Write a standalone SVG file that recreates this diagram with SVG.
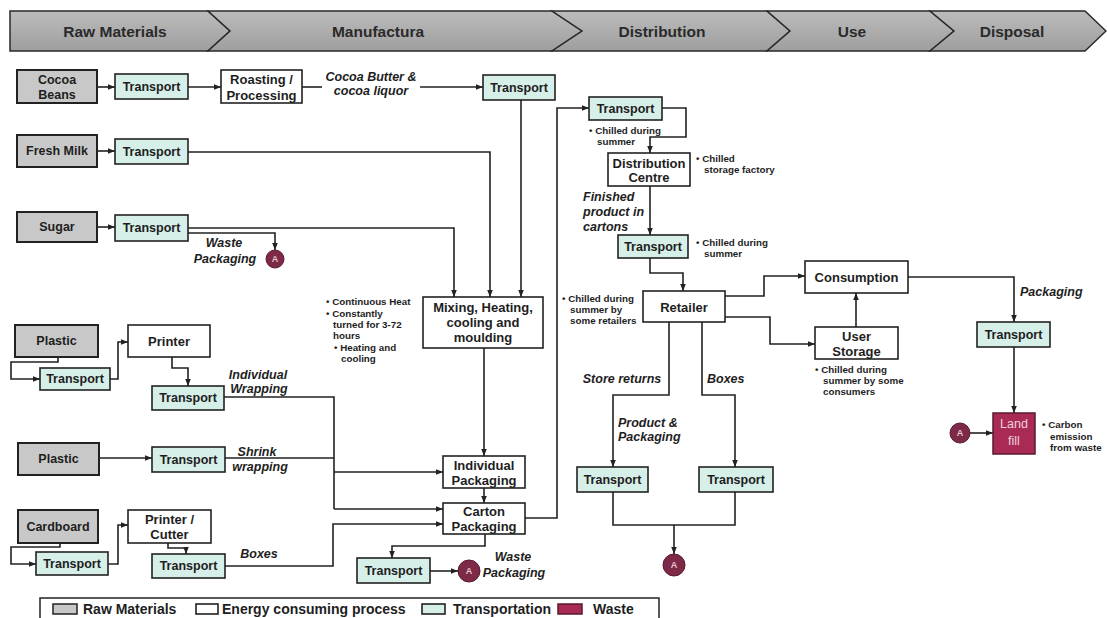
<svg xmlns="http://www.w3.org/2000/svg" width="1107" height="618" viewBox="0 0 1107 618">
<defs>
<marker id="ah" viewBox="0 0 10 10" refX="10" refY="5" markerWidth="7" markerHeight="7" orient="auto" markerUnits="userSpaceOnUse"><path d="M0,1 L10,5 L0,9 z" fill="#222"/></marker>
<linearGradient id="hg" x1="0" y1="0" x2="0" y2="1"><stop offset="0" stop-color="#bcbcbc"/><stop offset="1" stop-color="#9e9e9e"/></linearGradient>
</defs>
<style>
text{font-family:"Liberation Sans",Arial,sans-serif;font-weight:bold;fill:#1e1e1e;dominant-baseline:central}
.hd{font-size:15.5px;text-anchor:middle;fill:#2a2a2a}
.hdp{fill:url(#hg);stroke:#2a2a2a;stroke-width:1.5}
.raw{fill:#c8c8c8;stroke:#222;stroke-width:2}
.proc{fill:#fff;stroke:#222;stroke-width:1.6}
.tr{fill:#d6efe8;stroke:#222;stroke-width:1.6}
.waste{fill:#a82a55;stroke:#5a1a2a;stroke-width:1.5}
.wc{fill:#7d2a48;stroke:#5a1a30;stroke-width:1}
.wct{font-size:9px;fill:#e8c0cc;text-anchor:middle}
.n{font-size:13px;text-anchor:middle}
.t{font-size:12.5px;text-anchor:middle}
.lb{font-size:12.5px;font-style:italic;text-anchor:middle}
.lbl{font-size:12.5px;font-style:italic}
.note{font-size:9.8px}
.lg{font-size:14px}
.c path{fill:none;stroke:#222;stroke-width:1.6}
.c .a{marker-end:url(#ah)}
</style>
<rect width="1107" height="618" fill="#fff"/>

<g id="header">
<polygon class="hdp" points="10,11 208,11 230,31 208,51 10,51"/>
<polygon class="hdp" points="208,11 552,11 582,31 552,51 208,51 230,31"/>
<polygon class="hdp" points="552,11 767,11 790,31 767,51 552,51 582,31"/>
<polygon class="hdp" points="767,11 930,11 954,31 930,51 767,51 790,31"/>
<polygon class="hdp" points="930,11 1085,11 1106,31 1085,51 930,51 954,31"/>
<text class="hd" x="115" y="31">Raw Materials</text>
<text class="hd" x="378" y="31">Manufactura</text>
<text class="hd" x="662" y="31">Distribution</text>
<text class="hd" x="852" y="31">Use</text>
<text class="hd" x="1012" y="31">Disposal</text>
</g>

<g id="connectors" class="c">
<path class="a" d="M97,87 H115"/>
<path class="a" d="M188,87 H221"/>
<path d="M302,87 H322"/>
<path class="a" d="M420,87 H483"/>
<path class="a" d="M521,100 V297"/>
<path class="a" d="M97,151 H115"/>
<path class="a" d="M188,152 H490 V297"/>
<path class="a" d="M97,227 H115"/>
<path class="a" d="M188,228 H454 V297"/>
<path class="a" d="M188,233 H275 V250"/>
<path class="a" d="M58,357 V362 H11 V379 H40"/>
<path class="a" d="M110,379 H118 V342 H128"/>
<path class="a" d="M172,357 V368 H188 V386"/>
<path d="M224,397 H334 V509"/>
<path class="a" d="M334,472 H443"/>
<path class="a" d="M334,509 H443"/>
<path class="a" d="M99,458 H152"/>
<path d="M225,458 H334"/>
<path class="a" d="M60,543 V547 H11 V564 H36"/>
<path class="a" d="M108,564 H118 V525 H128"/>
<path class="a" d="M168,543 V548 H186 V554"/>
<path class="a" d="M225,566 H333 V524 H443"/>
<path class="a" d="M484,348 V456"/>
<path class="a" d="M484,488 V503"/>
<path class="a" d="M525,518 H557 V108 H589"/>
<path class="a" d="M485,534 V546 H392 V558"/>
<path class="a" d="M430,571 H458"/>
<path class="a" d="M662,108 H686 V137 H650 V153"/>
<path class="a" d="M650,186 V235"/>
<path class="a" d="M650,258 V273 H683 V291"/>
<path class="a" d="M725,296 H764 V276 H805"/>
<path class="a" d="M725,317 H770 V344 H815"/>
<path class="a" d="M856,327 V293"/>
<path class="a" d="M908,277 H1014 V322"/>
<path class="a" d="M1014,347 V413"/>
<path class="a" d="M970,433 H993"/>
<path class="a" d="M669,322 V395 H613 V467"/>
<path class="a" d="M702,322 V395 H735 V467"/>
<path d="M613,492 V525 H735 V492"/>
<path class="a" d="M674,525 V554"/>
</g>

<g id="cocoa-beans"><rect class="raw" x="17" y="70" width="80" height="33"/><text class="t" x="57" y="80">Cocoa</text><text class="t" x="57" y="95">Beans</text></g>
<g id="t-cocoa"><rect class="tr" x="115" y="74" width="73" height="25"/><text class="t" x="151.5" y="87">Transport</text></g>
<g id="roasting"><rect class="proc" x="221" y="70" width="81" height="33"/><text class="n" x="261.5" y="79">Roasting /</text><text class="n" x="261.5" y="95">Processing</text></g>
<g id="lbl-cocoa-butter"><text class="lb" x="371" y="77">Cocoa Butter &amp;</text><text class="lb" x="371" y="91">cocoa liquor</text></g>
<g id="t-mid"><rect class="tr" x="483" y="75" width="72" height="25"/><text class="t" x="519" y="87.5">Transport</text></g>

<g id="fresh-milk"><rect class="raw" x="17" y="135" width="80" height="32"/><text class="t" x="57" y="151">Fresh Milk</text></g>
<g id="t-milk"><rect class="tr" x="115" y="139" width="73" height="25"/><text class="t" x="151.5" y="151.5">Transport</text></g>

<g id="sugar"><rect class="raw" x="17" y="212" width="80" height="30"/><text class="t" x="57" y="227">Sugar</text></g>
<g id="t-sugar"><rect class="tr" x="115" y="215" width="73" height="26"/><text class="t" x="151.5" y="228">Transport</text></g>
<g id="lbl-waste1"><text class="lb" x="224" y="243">Waste</text><text class="lb" x="225" y="259">Packaging</text></g>
<g id="waste-a1"><circle class="wc" cx="275" cy="259" r="9"/><text class="wct" x="275" y="259">A</text></g>

<g id="plastic1"><rect class="raw" x="15" y="325" width="83" height="32"/><text class="t" x="56.5" y="341">Plastic</text></g>
<g id="t-plastic1"><rect class="tr" x="40" y="368" width="70" height="22"/><text class="t" x="75" y="379">Transport</text></g>
<g id="printer"><rect class="proc" x="128" y="325" width="82" height="32"/><text class="n" x="169" y="341">Printer</text></g>
<g id="t-printer"><rect class="tr" x="152" y="386" width="72" height="24"/><text class="t" x="188" y="398">Transport</text></g>
<g id="lbl-indiv"><text class="lb" x="258" y="375">Individual</text><text class="lb" x="259" y="389">Wrapping</text></g>

<g id="plastic2"><rect class="raw" x="18" y="443" width="81" height="32"/><text class="t" x="58.5" y="459">Plastic</text></g>
<g id="t-plastic2"><rect class="tr" x="152" y="447" width="73" height="25"/><text class="t" x="188.5" y="459.5">Transport</text></g>
<g id="lbl-shrink"><text class="lb" x="257" y="452">Shrink</text><text class="lb" x="260" y="467">wrapping</text></g>

<g id="cardboard"><rect class="raw" x="18" y="510" width="80" height="33"/><text class="t" x="58" y="527">Cardboard</text></g>
<g id="t-cardboard"><rect class="tr" x="36" y="552" width="72" height="23"/><text class="t" x="72" y="563.5">Transport</text></g>
<g id="printer-cutter"><rect class="proc" x="128" y="510" width="83" height="33"/><text class="n" x="169.5" y="519">Printer /</text><text class="n" x="169.5" y="534">Cutter</text></g>
<g id="t-boxes"><rect class="tr" x="152" y="554" width="73" height="24"/><text class="t" x="188.5" y="566">Transport</text></g>
<g id="lbl-boxes"><text class="lb" x="259" y="554">Boxes</text></g>

<g id="mix-notes">
<text class="note" x="326" y="301">• Continuous Heat</text>
<text class="note" x="326" y="313">• Constantly</text>
<text class="note" x="333" y="324">turned for 3-72</text>
<text class="note" x="333" y="335">hours</text>
<text class="note" x="334" y="347">• Heating and</text>
<text class="note" x="341" y="358">cooling</text>
</g>
<g id="mixing"><rect class="proc" x="423" y="297" width="120" height="51"/><text class="n" x="483" y="307">Mixing, Heating,</text><text class="n" x="483" y="322">cooling and</text><text class="n" x="483" y="337">moulding</text></g>
<g id="indiv-pack"><rect class="proc" x="443" y="456" width="82" height="32"/><text class="n" x="484" y="465">Individual</text><text class="n" x="484" y="480">Packaging</text></g>
<g id="carton-pack"><rect class="proc" x="443" y="503" width="82" height="31"/><text class="n" x="484" y="511">Carton</text><text class="n" x="484" y="526">Packaging</text></g>
<g id="t-waste"><rect class="tr" x="357" y="558" width="73" height="25"/><text class="t" x="393.5" y="570.5">Transport</text></g>
<g id="waste-a2"><circle class="wc" cx="469" cy="571" r="11"/><text class="wct" x="469" y="571">A</text></g>
<g id="lbl-waste2"><text class="lb" x="513" y="557">Waste</text><text class="lb" x="514" y="573">Packaging</text></g>

<g id="t-dist"><rect class="tr" x="589" y="97" width="73" height="23"/><text class="t" x="625.5" y="108.5">Transport</text></g>
<g id="note-dist1"><text class="note" x="589" y="130">• Chilled during</text><text class="note" x="597" y="141">summer</text></g>
<g id="dist-centre"><rect class="proc" x="608" y="153" width="82" height="33"/><text class="n" x="649" y="163">Distribution</text><text class="n" x="649" y="177">Centre</text></g>
<g id="note-dc"><text class="note" x="696" y="158">• Chilled</text><text class="note" x="704" y="169">storage factory</text></g>
<g id="lbl-finished"><text class="lbl" x="583" y="197">Finished</text><text class="lbl" x="583" y="212">product in</text><text class="lbl" x="583" y="227">cartons</text></g>
<g id="t-dist2"><rect class="tr" x="618" y="235" width="70" height="23"/><text class="t" x="653" y="246.5">Transport</text></g>
<g id="note-dist2"><text class="note" x="696" y="242">• Chilled during</text><text class="note" x="704" y="253">summer</text></g>
<g id="note-retail"><text class="note" x="562" y="298">• Chilled during</text><text class="note" x="570" y="309">summer by</text><text class="note" x="570" y="320">some retailers</text></g>
<g id="retailer"><rect class="proc" x="643" y="291" width="82" height="31"/><text class="n" x="684" y="307">Retailer</text></g>
<g id="lbl-store"><text class="lb" x="622" y="379">Store returns</text></g>
<g id="lbl-boxes2"><text class="lbl" x="707" y="379">Boxes</text></g>
<g id="lbl-prodpack"><text class="lbl" x="618" y="423">Product &amp;</text><text class="lbl" x="618" y="437">Packaging</text></g>
<g id="t-ret1"><rect class="tr" x="577" y="467" width="71" height="25"/><text class="t" x="612.5" y="479.5">Transport</text></g>
<g id="t-ret2"><rect class="tr" x="699" y="467" width="74" height="25"/><text class="t" x="736" y="479.5">Transport</text></g>
<g id="waste-a3"><circle class="wc" cx="674" cy="565" r="11"/><text class="wct" x="674" y="565">A</text></g>

<g id="consumption"><rect class="proc" x="805" y="261" width="103" height="32"/><text class="n" x="856.5" y="277">Consumption</text></g>
<g id="user-storage"><rect class="proc" x="815" y="327" width="83" height="32"/><text class="n" x="856.5" y="336">User</text><text class="n" x="856.5" y="351">Storage</text></g>
<g id="note-user"><text class="note" x="815" y="369">• Chilled during</text><text class="note" x="823" y="380">summer by some</text><text class="note" x="823" y="391">consumers</text></g>
<g id="lbl-packaging"><text class="lbl" x="1020" y="292">Packaging</text></g>
<g id="t-disp"><rect class="tr" x="977" y="322" width="73" height="25"/><text class="t" x="1013.5" y="334.5">Transport</text></g>
<g id="waste-a4"><circle class="wc" cx="960" cy="433" r="10"/><text class="wct" x="960" y="433">A</text></g>
<g id="landfill"><rect class="waste" x="993" y="413" width="42" height="41"/><text class="t" x="1014" y="424" style="fill:#f0d0da;font-weight:normal">Land</text><text class="t" x="1014" y="441" style="fill:#f0d0da;font-weight:normal">fill</text></g>
<g id="note-landfill"><text class="note" x="1042" y="424">• Carbon</text><text class="note" x="1050" y="436">emission</text><text class="note" x="1050" y="447">from waste</text></g>

<g id="legend">
<rect x="40" y="598" width="619" height="30" fill="#fff" stroke="#222" stroke-width="1.5"/>
<rect x="53" y="604" width="24" height="10" class="raw" style="stroke-width:1.5"/>
<text class="lg" x="83" y="609">Raw Materials</text>
<rect x="196" y="604" width="22" height="10" class="proc"/>
<text class="lg" x="222" y="609">Energy consuming process</text>
<rect x="422" y="604" width="23" height="10" class="tr"/>
<text class="lg" x="453" y="609">Transportation</text>
<rect x="558" y="604" width="24" height="10" class="waste"/>
<text class="lg" x="593" y="609">Waste</text>
</g>
</svg>
